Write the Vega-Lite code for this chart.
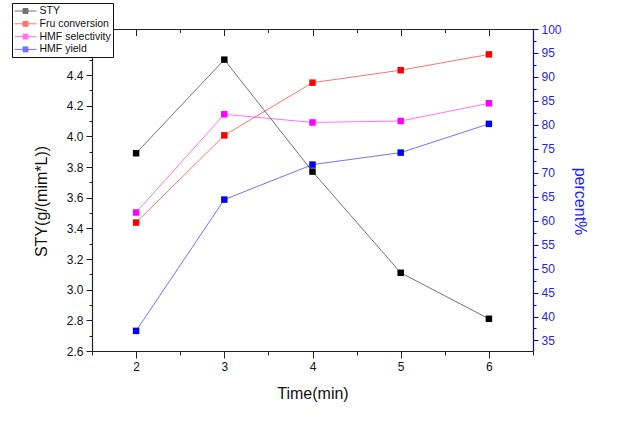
{
  "$schema": "https://vega.github.io/schema/vega-lite/v6.json",
  "width": 441,
  "height": 322,
  "autosize": "none",
  "padding": {"left": 92, "top": 29, "right": 84, "bottom": 74},
  "background": "white",
  "config": {
    "view": {"stroke": null},
    "font": "Liberation Sans",
    "axis": {"grid": false, "domainColor": "#222", "domainWidth": 1.2, "tickColor": "#222", "labelFontSize": 12, "titleFontSize": 16, "titleFontWeight": "normal", "labelColor": "#111", "titleColor": "#111"}
  },
  "data": {
    "values": [
      {"time": 2, "series": "STY", "value": 3.89},
      {"time": 3, "series": "STY", "value": 4.50},
      {"time": 4, "series": "STY", "value": 3.77},
      {"time": 5, "series": "STY", "value": 3.11},
      {"time": 6, "series": "STY", "value": 2.81},
      {"time": 2, "series": "Fru conversion", "value": 59.6},
      {"time": 3, "series": "Fru conversion", "value": 77.8},
      {"time": 4, "series": "Fru conversion", "value": 88.8},
      {"time": 5, "series": "Fru conversion", "value": 91.4},
      {"time": 6, "series": "Fru conversion", "value": 94.7},
      {"time": 2, "series": "HMF selectivity", "value": 61.7},
      {"time": 3, "series": "HMF selectivity", "value": 82.2},
      {"time": 4, "series": "HMF selectivity", "value": 80.5},
      {"time": 5, "series": "HMF selectivity", "value": 80.8},
      {"time": 6, "series": "HMF selectivity", "value": 84.5},
      {"time": 2, "series": "HMF yield", "value": 37.0},
      {"time": 3, "series": "HMF yield", "value": 64.4},
      {"time": 4, "series": "HMF yield", "value": 71.7},
      {"time": 5, "series": "HMF yield", "value": 74.2},
      {"time": 6, "series": "HMF yield", "value": 80.2}
    ]
  },
  "layer": [
    {
      "transform": [{"filter": "datum.series == 'STY'"}],
      "encoding": {
        "x": {
          "field": "time", "type": "quantitative",
          "scale": {"domain": [1.5, 6.5], "nice": false, "zero": false},
          "axis": {
            "title": "Time(min)",
            "values": [1.5, 2, 2.5, 3, 3.5, 4, 4.5, 5, 5.5, 6, 6.5],
            "labelExpr": "datum.value % 1 == 0 ? format(datum.value, 'd') : ''",
            "tickSize": {"condition": {"test": "datum.value % 1 != 0", "value": 4}, "value": 7},
            "labelPadding": 3,
            "titlePadding": 13
          }
        },
        "y": {
          "field": "value", "type": "quantitative",
          "scale": {"domain": [2.6, 4.7], "nice": false, "zero": false},
          "axis": {
            "title": "STY(g/(mim*L))",
            "values": [2.6, 2.7, 2.8, 2.9, 3.0, 3.1, 3.2, 3.3, 3.4, 3.5, 3.6, 3.7, 3.8, 3.9, 4.0, 4.1, 4.2, 4.3, 4.4, 4.5, 4.6, 4.7],
            "labelExpr": "round(datum.value * 10) % 2 == 0 && datum.value < 4.5 ? format(datum.value, '.1f') : ''",
            "tickSize": {"condition": {"test": "round(datum.value * 10) % 2 != 0", "value": 3}, "value": 6},
            "labelPadding": 3,
            "titlePadding": 17,
            "titleY": 172
          }
        },
        "color": {
          "field": "series", "type": "nominal",
          "scale": {"domain": ["STY", "Fru conversion", "HMF selectivity", "HMF yield"], "range": ["#000000", "#ff0000", "#ff00ff", "#0000ff"]},
          "legend": {
            "title": null,
            "orient": "none",
            "legendX": -80,
            "legendY": -26,
            "fillColor": "white",
            "strokeColor": "#111",
            "padding": 2,
            "rowPadding": 0.8,
            "labelFontSize": 10.5,
            "labelColor": "#111",
            "symbolType": "M-2,0H2M-0.45,-0.45H0.45V0.45H-0.45Z",
            "symbolSize": 121,
            "symbolStrokeWidth": 1,
            "symbolOffset": 5.5,
            "labelOffset": 8,
            "encode": {"symbols": {"update": {"fill": {"scale": "color", "field": "value"}, "stroke": {"scale": "color", "field": "value"}, "opacity": {"value": 1}}}}
          }
        }
      },
      "layer": [
        {"mark": {"type": "line", "strokeWidth": 1, "opacity": 0.55}},
        {"mark": {"type": "point", "shape": "square", "filled": true, "size": 42, "opacity": 1}}
      ]
    },
    {
      "transform": [{"filter": "datum.series != 'STY'"}],
      "encoding": {
        "x": {
          "field": "time", "type": "quantitative",
          "scale": {"domain": [1.5, 6.5], "nice": false, "zero": false},
          "axis": {
            "orient": "bottom",
            "offset": -322,
            "title": null,
            "values": [1.5, 2, 2.5, 3, 3.5, 4, 4.5, 5, 5.5, 6, 6.5],
            "labels": false,
            "tickSize": {"condition": {"test": "datum.value % 1 != 0", "value": 3.5}, "value": 6.5}
          }
        },
        "y": {
          "field": "value", "type": "quantitative",
          "scale": {"domain": [32.8, 100], "nice": false, "zero": false},
          "axis": {
            "orient": "right",
            "title": "percent%",
            "titleAngle": 90,
            "titleY": 172,
            "titlePadding": 10,
            "values": [35, 37.5, 40, 42.5, 45, 47.5, 50, 52.5, 55, 57.5, 60, 62.5, 65, 67.5, 70, 72.5, 75, 77.5, 80, 82.5, 85, 87.5, 90, 92.5, 95, 97.5, 100],
            "labelExpr": "datum.value % 5 == 0 ? datum.label : ''",
            "tickSize": {"condition": {"test": "datum.value % 5 != 0", "value": 3}, "value": 5},
            "labelPadding": 3,
            "domainColor": "#0000ff",
            "tickColor": "#0000ff",
            "labelColor": "#2222ff",
            "titleColor": "#2222ff"
          }
        },
        "color": {"field": "series", "type": "nominal"}
      },
      "layer": [
        {"mark": {"type": "line", "strokeWidth": 1, "opacity": 0.55}},
        {"mark": {"type": "point", "shape": "square", "filled": true, "size": 42, "opacity": 1}}
      ]
    }
  ],
  "resolve": {"scale": {"y": "independent"}, "axis": {"x": "independent"}}
}
